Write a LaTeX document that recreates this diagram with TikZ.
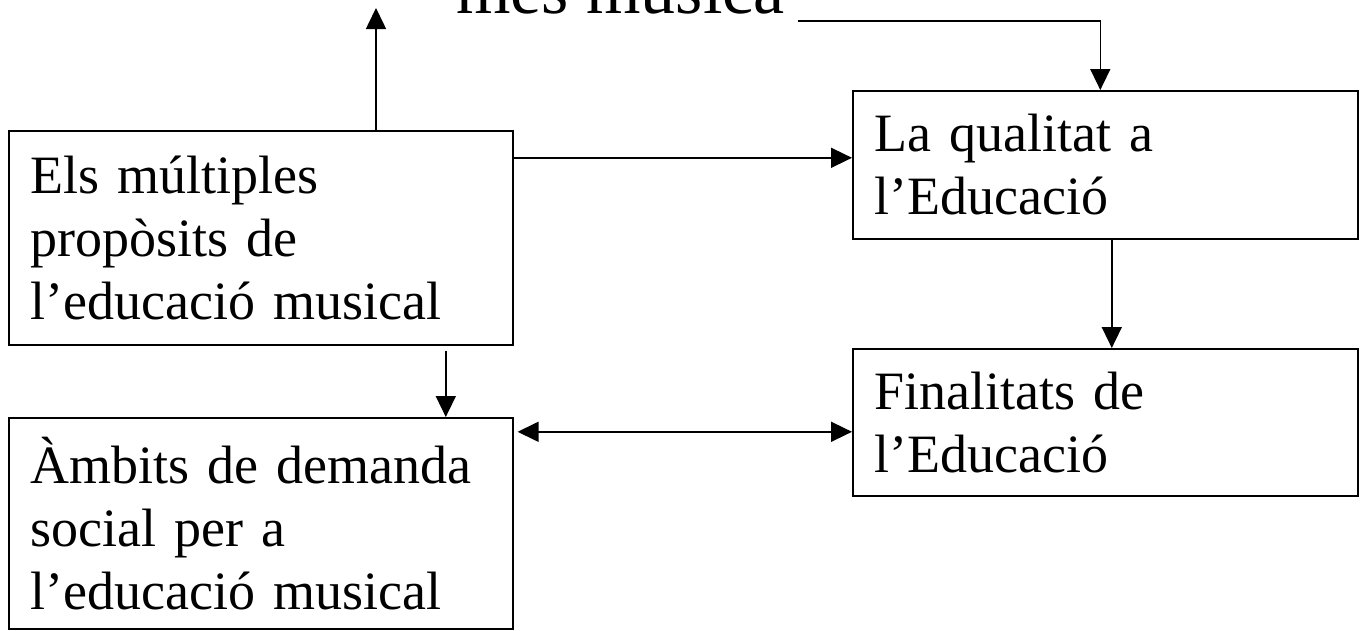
\documentclass[tikz,border=0pt]{standalone}
\usepackage{fontspec}
\setmainfont{Liberation Serif}
\usetikzlibrary{arrows.meta}

\begin{document}
\begin{tikzpicture}[x=1pt,y=-1pt,
  box/.style={draw, line width=1.6pt, anchor=north west, inner xsep=22pt, inner ysep=0pt,
    align=left, font=\fontsize{54}{63}\selectfont},
  tip/.style={Triangle[length=21pt,width=20pt]},
  arr/.style={line width=1.6pt, -{Triangle[length=21pt,width=20pt]}},
  arrboth/.style={line width=1.6pt, {Triangle[length=21pt,width=20pt]}-{Triangle[length=21pt,width=20pt]}}]
  \useasboundingbox (0,0) rectangle (1363,630);
  \clip (0,0) rectangle (1363,630);

  % heading, mostly above the top edge
  \node[anchor=base west, inner sep=0pt, font=\fontsize{70}{82}\selectfont] (title) at (456,13) {més música};
  \coordinate (titleEnd) at (798,21);

  % boxes
  \node[box, minimum width=504pt, minimum height=214pt, text width=460pt] (A) at (8,130)
    {Els múltiples\\propòsits de\\l’educació musical};
  \node[box, minimum width=504pt, minimum height=211pt, text width=460pt] (B) at (8,417)
    {Àmbits de demanda\\social per a\\l’educació musical};
  \node[box, minimum width=505pt, minimum height=148pt, text width=461pt] (C) at (852,90)
    {La qualitat a\\l’Educació};
  \node[box, minimum width=505pt, minimum height=147pt, text width=461pt] (D) at (852,348)
    {Finalitats de\\l’Educació};

  % connectors
  \coordinate (upTip) at (376,8);
  \draw[arr] (upTip |- A.north) -- (upTip);
  \draw[arr] (titleEnd) -| ([xshift=-5pt]C.north);
  \draw[arr] ([yshift=7pt]C.west -| A.east) -- ([yshift=7pt]C.west);
  \draw[arr] ([xshift=185pt,yshift=-5pt]A.south) -- ([xshift=185pt]B.north);
  \draw[arr] ([xshift=6.5pt]C.south) -- ([xshift=6.5pt]D.north);
  \draw[arrboth, shorten <=4pt] ([yshift=-9.5pt]D.west -| B.east) -- ([yshift=-9.5pt]D.west);
\end{tikzpicture}
\end{document}
